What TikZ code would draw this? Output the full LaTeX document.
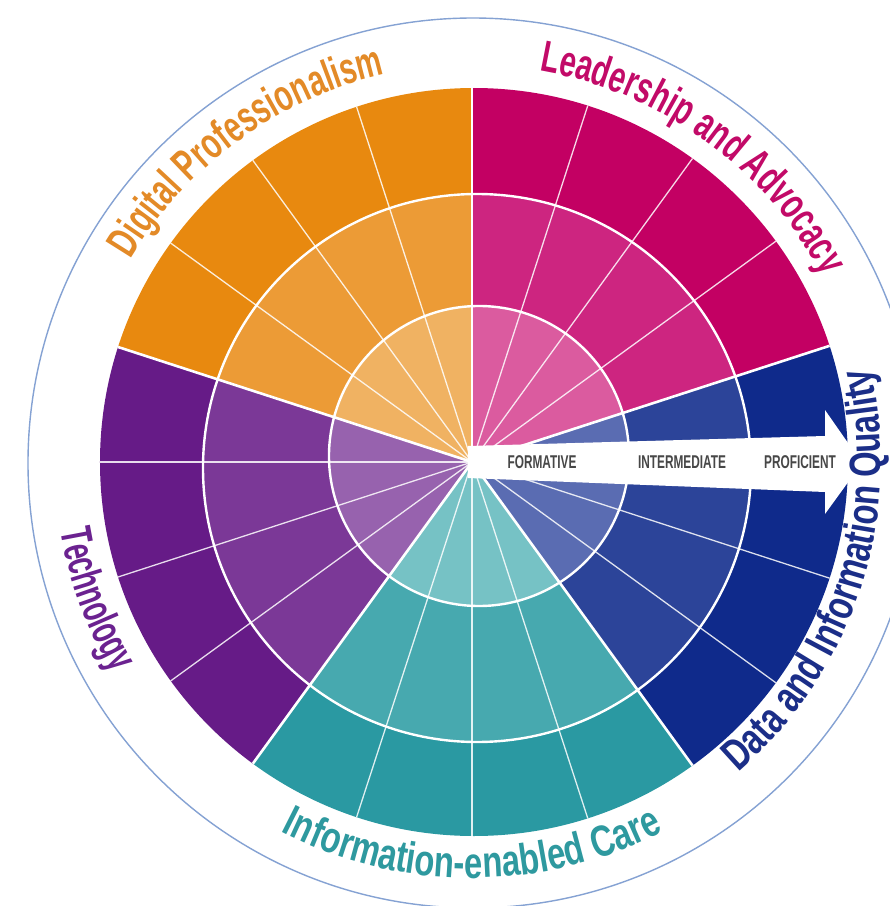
\documentclass[tikz,border=0pt]{standalone}
\usepackage{fontspec}
\usetikzlibrary{decorations.text}
\newfontfamily\lblfamA[FakeStretch=0.665]{Liberation Sans Bold}
\newfontfamily\lblfamB[FakeStretch=0.745]{Liberation Sans Bold}
\newfontfamily\lblfamC[FakeStretch=0.62]{Liberation Sans Bold}
\newfontfamily\arrfam[FakeStretch=0.64]{Liberation Sans Bold}
\newcommand\lblA{\lblfamA\fontsize{44}{52}\selectfont}
\newcommand\lblB{\lblfamB\fontsize{44}{52}\selectfont}
\newcommand\lblC{\lblfamC\fontsize{44}{52}\selectfont}
\definecolor{orO}{HTML}{E8890F}\definecolor{orM}{HTML}{EC9B36}\definecolor{orI}{HTML}{F0B262}
\definecolor{maO}{HTML}{C30063}\definecolor{maM}{HTML}{CD2580}\definecolor{maI}{HTML}{DB5B9F}
\definecolor{blO}{HTML}{0F2A8B}\definecolor{blM}{HTML}{2C4499}\definecolor{blI}{HTML}{5A6CB2}
\definecolor{teO}{HTML}{2A99A2}\definecolor{teM}{HTML}{47A9AF}\definecolor{teI}{HTML}{76C2C5}
\definecolor{puO}{HTML}{661B87}\definecolor{puM}{HTML}{7B3897}\definecolor{puI}{HTML}{9762AE}
\definecolor{orT}{HTML}{E38A27}\definecolor{maT}{HTML}{C20A68}\definecolor{blT}{HTML}{1B2E88}
\definecolor{teT}{HTML}{2E999F}\definecolor{puT}{HTML}{6B2290}
\definecolor{ringblue}{HTML}{85A2D3}\definecolor{arrtext}{HTML}{474747}
\tikzset{
  subline/.style={white, opacity=0.85, line width=1.3pt},
  secline/.style={white, line width=2.6pt},
  ringw/.style={white, line width=2.4pt},
  frameline/.style={ringblue, line width=1.4pt},
  arrtxt/.style={text=arrtext, font=\arrfam\fontsize{18.5}{21}\selectfont, inner sep=0pt},
}
\begin{document}
\begin{tikzpicture}[x=1pt,y=1pt]
\useasboundingbox (-472,-444) rectangle (418,462);
\fill[white] (-472,-444) rectangle (418,462);
% thin outer circle
\draw[frameline] (1,-1) circle[radius=445pt];
% coloured sectors
\foreach \a/\co/\cm/\ci in {90/orO/orM/orI, 18/maO/maM/maI, -54/blO/blM/blI, 234/teO/teM/teI, 162/puO/puM/puI}{
  \begin{scope}
    \clip (0,0) -- (\a:600pt) -- ({\a+24}:600pt) -- ({\a+48}:600pt) -- ({\a+72}:600pt) -- cycle;
    \fill[\co] (2,0) circle[radius=374pt];
    \fill[\cm] (5,-6) circle[radius=274pt];
    \fill[\ci] (7,6) circle[radius=150pt];
  \end{scope}
}
% white separators
\begin{scope}
  \clip (2,0) circle[radius=374pt];
  \foreach \a in {0,36,54,72,108,126,144,180,198,216,252,270,288,324,342}
    \draw[subline] (0,0) -- (\a:420pt);
  \draw[ringw] (5,-6) circle[radius=274pt];
  \draw[ringw] (7,6) circle[radius=150pt];
  \foreach \a in {18,90,162,234,306}
    \draw[secline] (0,0) -- (\a:420pt);
\end{scope}
% arrow
\fill[white] (-4,16) -- (353,26) -- (353,52) -- (390,-1) -- (353,-52) -- (353,-30) -- (-4,-16) -- cycle;
\node[arrtxt] (formative) at (70,0) {FORMATIVE};
\node[arrtxt] (intermediate) at (210,0) {INTERMEDIATE};
\node[arrtxt] (proficient) at (328,0) {PROFICIENT};
% curved labels
\path[decorate, decoration={text along path, text={|\lblA|Digital Professionalism}, text align=center, text color=orT}]
  (166:397pt) arc[start angle=166, end angle=86, radius=397pt];
\path[decorate, decoration={text along path, text={|\lblA|Leadership and Advocacy}, text align=center, text color=maT}]
  (94:397pt) arc[start angle=94, end angle=14, radius=397pt];
\path[decorate, decoration={text along path, text={|\lblB|Data and Information Quality}, text align=center, text color=blT}]
  (-65:409pt) arc[start angle=-65, end angle=29, radius=409pt];
\path[decorate, decoration={text along path, text={|\lblB|Information-enabled Care}, text align=center, text color=teT}]
  (225:416pt) arc[start angle=225, end angle=315, radius=416pt];
\path[decorate, decoration={text along path, text={|\lblC|Technology}, text align=center, text color=puT}]
  (170:417pt) arc[start angle=170, end angle=230, radius=417pt];
\end{tikzpicture}
\end{document}
